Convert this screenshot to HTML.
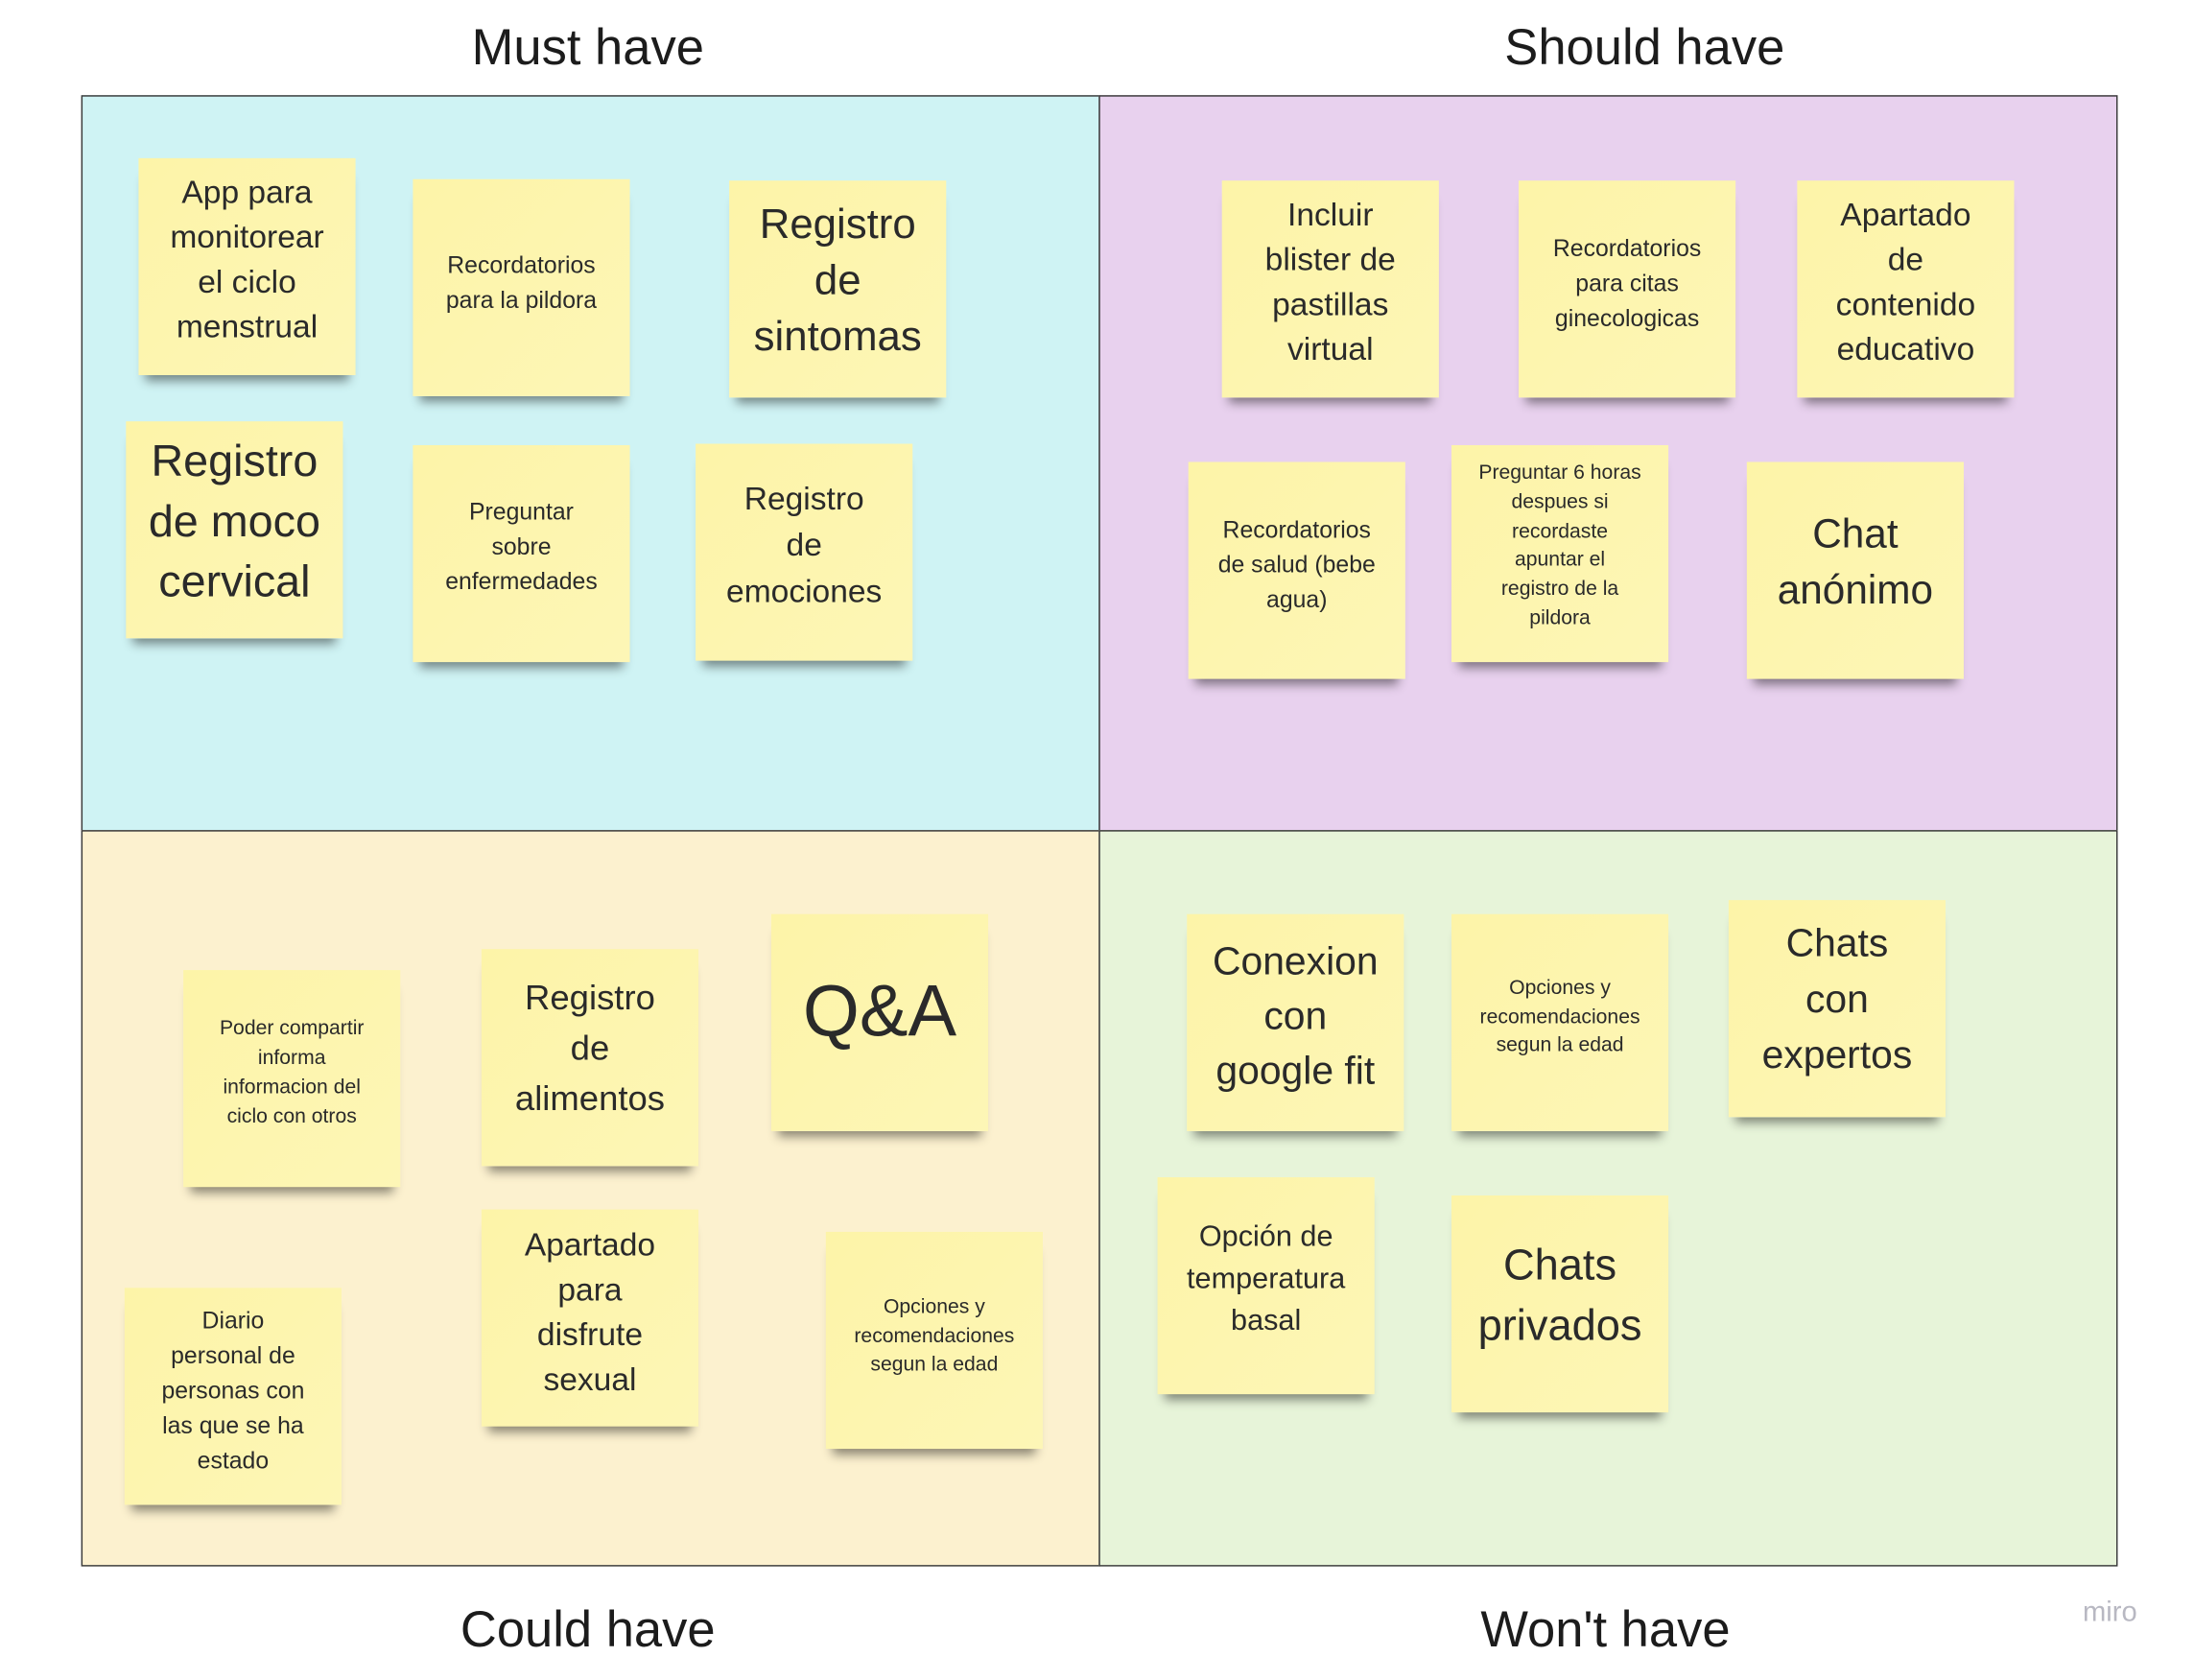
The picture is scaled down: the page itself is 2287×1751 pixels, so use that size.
<!DOCTYPE html>
<html><head><meta charset="utf-8"><style>
html,body{margin:0;padding:0;background:#fff;}
body{width:2287px;height:1748px;overflow:hidden;position:relative;font-family:"Liberation Sans",sans-serif;}
#w{position:absolute;left:0;top:0;width:1570px;height:1200px;transform:scale(1.459);transform-origin:0 0;}
.q{position:absolute;border:1.3px solid #3a3a3a;box-sizing:border-box;}
.t{position:absolute;font-size:36px;color:#1c1c1c;text-align:center;width:400px;line-height:40px;}
.n{position:absolute;width:155px;height:155px;background:linear-gradient(135deg,#fdf4a8,#fdf6b6);box-shadow:0 9px 7px -5px rgba(0,0,0,0.45);}
.n div{position:absolute;left:-10px;right:-10px;text-align:center;color:#2a2a2a;}
</style></head><body><div id="w">
<div class="t" style="left:220px;top:14px">Must have</div>
<div class="t" style="left:975px;top:14px">Should have</div>
<div class="t" style="left:220px;top:1144px">Could have</div>
<div class="t" style="left:947px;top:1144px">Won't have</div>
<div style="position:absolute;left:1488px;top:1141px;font-size:20px;color:#b8b8c2;">miro</div>

<div class="q" style="left:58px;top:68px;width:728px;height:526px;background:#cff3f4"></div>
<div class="q" style="left:785px;top:68px;width:728px;height:526px;background:#e8d1ee"></div>
<div class="q" style="left:58px;top:593px;width:728px;height:526px;background:#fcf1cf"></div>
<div class="q" style="left:785px;top:593px;width:728px;height:526px;background:#e7f4d9"></div>

<div class="n" style="left:99px;top:113px"><div style="top:8px;font-size:23px;line-height:32px">App para<br>monitorear<br>el ciclo<br>menstrual</div></div>
<div class="n" style="left:295px;top:128px"><div style="top:49px;font-size:17px;line-height:25px">Recordatorios<br>para la pildora</div></div>
<div class="n" style="left:521px;top:129px"><div style="top:12px;font-size:30px;line-height:40px">Registro<br>de<br>sintomas</div></div>
<div class="n" style="left:90px;top:301px"><div style="top:7px;font-size:32px;line-height:43px">Registro<br>de moco<br>cervical</div></div>
<div class="n" style="left:295px;top:318px"><div style="top:35px;font-size:17px;line-height:25px">Preguntar<br>sobre<br>enfermedades</div></div>
<div class="n" style="left:497px;top:317px"><div style="top:23px;font-size:23px;line-height:33px">Registro<br>de<br>emociones</div></div>

<div class="n" style="left:873px;top:129px"><div style="top:8px;font-size:23px;line-height:32px">Incluir<br>blister de<br>pastillas<br>virtual</div></div>
<div class="n" style="left:1085px;top:129px"><div style="top:36px;font-size:17px;line-height:25px">Recordatorios<br>para citas<br>ginecologicas</div></div>
<div class="n" style="left:1284px;top:129px"><div style="top:8px;font-size:23px;line-height:32px">Apartado<br>de<br>contenido<br>educativo</div></div>
<div class="n" style="left:849px;top:330px"><div style="top:36px;font-size:17px;line-height:25px">Recordatorios<br>de salud (bebe<br>agua)</div></div>
<div class="n" style="left:1037px;top:318px"><div style="top:10px;font-size:14.5px;line-height:20.8px">Preguntar 6 horas<br>despues si<br>recordaste<br>apuntar el<br>registro de la<br>pildora</div></div>
<div class="n" style="left:1248px;top:330px"><div style="top:32px;font-size:29px;line-height:40px">Chat<br>anónimo</div></div>

<div class="n" style="left:131px;top:693px"><div style="top:32px;font-size:14.5px;line-height:21px">Poder compartir<br>informa<br>informacion del<br>ciclo con otros</div></div>
<div class="n" style="left:344px;top:678px"><div style="top:17px;font-size:25px;line-height:36px">Registro<br>de<br>alimentos</div></div>
<div class="n" style="left:551px;top:653px"><div style="top:38px;font-size:52px;line-height:64px">Q&amp;A</div></div>
<div class="n" style="left:89px;top:920px"><div style="top:11px;font-size:17px;line-height:25px">Diario<br>personal de<br>personas con<br>las que se ha<br>estado</div></div>
<div class="n" style="left:344px;top:864px"><div style="top:9px;font-size:23px;line-height:32px">Apartado<br>para<br>disfrute<br>sexual</div></div>
<div class="n" style="left:590px;top:880px"><div style="top:44px;font-size:14.5px;line-height:20.5px">Opciones y<br>recomendaciones<br>segun la edad</div></div>

<div class="n" style="left:848px;top:653px"><div style="top:14px;font-size:28px;line-height:39px">Conexion<br>con<br>google fit</div></div>
<div class="n" style="left:1037px;top:653px"><div style="top:43px;font-size:14.5px;line-height:20.5px">Opciones y<br>recomendaciones<br>segun la edad</div></div>
<div class="n" style="left:1235px;top:643px"><div style="top:11px;font-size:28px;line-height:40px">Chats<br>con<br>expertos</div></div>
<div class="n" style="left:827px;top:841px"><div style="top:28px;font-size:21px;line-height:30px">Opción de<br>temperatura<br>basal</div></div>
<div class="n" style="left:1037px;top:854px"><div style="top:28px;font-size:31px;line-height:43px">Chats<br>privados</div></div>
</div></body></html>
